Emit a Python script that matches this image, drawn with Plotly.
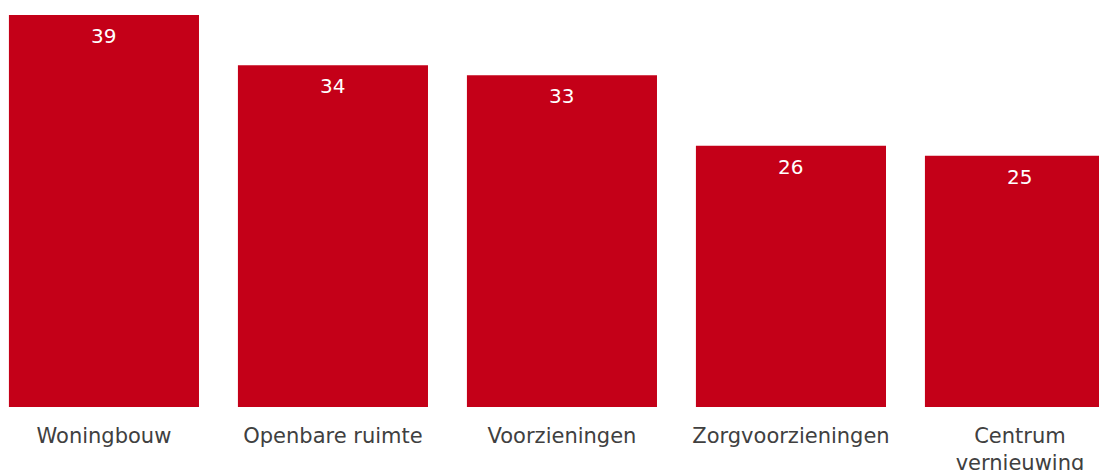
import plotly.graph_objects as go

categories = ["Woningbouw", "Openbare ruimte", "Voorzieningen", "Zorgvoorzieningen", "Centrum<br>vernieuwing"]
values = [39, 34, 33, 26, 25]

BAR_COLOR = "#C40018"
TEXT_COLOR = "#404040"
FONT = "Verdana, DejaVu Sans, sans-serif"

fig = go.Figure()
fig.add_trace(go.Bar(
    x=categories,
    y=values,
    marker=dict(color=BAR_COLOR, line=dict(width=0)),
    hoverinfo="skip",
))

for c, v in zip(categories, values):
    fig.add_annotation(
        x=c, y=v, text=str(v), showarrow=False,
        yanchor="top", yshift=-7,
        font=dict(family=FONT, size=20, color="white"),
    )

fig.update_layout(
    width=1107, height=470,
    margin=dict(l=0, r=0, t=7, b=71),
    paper_bgcolor="white", plot_bgcolor="white",
    bargap=0.17,
    showlegend=False,
    font=dict(family=FONT, color=TEXT_COLOR),
)
fig.update_xaxes(
    range=[-0.419, 4.415],
    showgrid=False, zeroline=False, showline=False, ticks="",
    tickfont=dict(family=FONT, size=21, color=TEXT_COLOR),
    ticklabelstandoff=14,
)
fig.update_yaxes(
    range=[0, 39], visible=False, showgrid=False, zeroline=False,
)

fig.write_html("out.html")
